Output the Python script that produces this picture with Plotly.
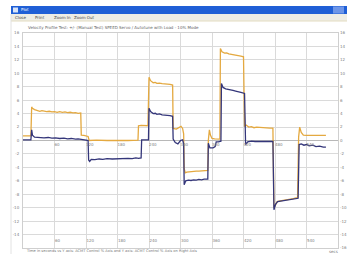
import plotly.graph_objects as go

# ---- data ----
orange_t = [0, 8, 15, 16.5, 18, 22, 27, 32, 36, 40, 45, 50, 55, 60, 65, 70, 75, 80, 85, 90, 95, 100, 105, 110,
            111, 116, 120, 124, 126, 140, 160, 180, 200, 219,
            220, 225, 230, 238,
            240, 243, 248, 252, 255, 260, 265, 270, 275, 280, 285,
            286, 292, 297, 301, 304, 306,
            307, 309, 312, 316, 320, 325, 330, 335, 340, 346, 352,
            353, 355, 357, 360, 365, 370, 375,
            376, 379, 384, 388, 392, 396, 400, 405, 410, 415, 420,
            422, 425, 430, 435, 440, 445, 450, 455, 460, 465, 470, 476,
            478, 481, 484, 490, 495, 500, 505, 510, 515, 520, 523,
            525, 527, 530, 534, 540, 545, 550, 560, 570, 577]
orange_v = [0.7, 0.75, 0.7, 5.0, 4.8, 4.6, 4.45, 4.35, 4.45, 4.4, 4.3, 4.35, 4.25, 4.3, 4.2, 4.3, 4.2, 4.25, 4.15, 4.2, 4.1, 4.15, 4.05, 4.1,
            0.8, 0.75, 0.7, 0.6, 0.0, 0.05, 0.0, -0.05, 0.0, 0.05,
            2.2, 2.25, 2.2, 2.2,
            9.4, 8.9, 8.6, 8.65, 8.5, 8.55, 8.45, 8.45, 8.35, 8.35, 8.25,
            1.8, 1.7, 2.0, 2.1, 1.8, 1.0,
            -4.2, -4.8, -4.7, -4.65, -4.6, -4.6, -4.55, -4.55, -4.5, -4.5, -4.45,
            0.0, 1.6, 0.8, 0.3, 0.25, 0.2, 0.2,
            13.7, 13.2, 13.0, 13.05, 12.9, 12.85, 12.75, 12.75, 12.6, 12.55, 12.45,
            2.1, 2.3, 2.0, 2.05, 1.9, 2.0, 1.95, 1.9, 1.95, 1.9, 1.85, 1.85,
            -10.0, -9.6, -9.1, -9.0, -8.95, -8.85, -8.8, -8.7, -8.65, -8.55, -8.5,
            0.5, 2.0, 1.2, 0.8, 0.75, 0.75, 0.75, 0.75, 0.75, 0.75]

navy_t = [0, 8, 15, 16.5, 18, 22, 30, 40, 48, 55, 62, 70, 78, 85, 92, 100, 105, 110,
          112, 120, 124,
          125, 127, 130, 137, 145, 152, 160, 170, 180, 190, 200, 208, 215, 220, 225,
          226, 232, 239,
          240, 243, 248, 252, 255, 260, 265, 270, 275, 280, 285,
          286, 290, 295, 300, 304, 306,
          307, 310, 315, 320, 325, 330, 335, 340, 345, 352,
          353, 356, 362, 366, 368, 372, 377,
          378, 381, 386, 390, 395, 400, 405, 410, 415, 422,
          424, 428, 435, 442, 450, 458, 465, 470, 476,
          478, 481, 485, 490, 495, 500, 505, 510, 515, 520, 524,
          526, 530, 535, 540, 545, 552, 558, 565, 572, 577]
navy_v = [0.1, 0.15, 0.1, 1.6, 0.8, 0.5, 0.45, 0.4, 0.45, 0.35, 0.4, 0.3, 0.35, 0.25, 0.3, 0.2, 0.25, 0.15,
          0.1, 0.05, 0.0,
          -2.9, -3.1, -2.8, -2.85, -2.75, -2.8, -2.7, -2.75, -2.7, -2.7, -2.65, -2.7, -2.6, -2.65, -2.6,
          0.1, 0.15, 0.1,
          4.8, 4.3, 4.0, 4.05, 3.9, 3.95, 3.8, 3.8, 3.7, 3.7, 3.6,
          0.2, -0.3, -0.5, 0.0, 0.1, -0.5,
          -6.6, -6.0, -5.9, -5.95, -5.85, -5.9, -5.8, -5.85, -5.75, -5.75,
          -0.4, -1.1, -1.1, -0.9, -0.2, -0.2, -0.1,
          8.5, 7.9, 7.7, 7.65, 7.5, 7.45, 7.35, 7.3, 7.15, 7.0,
          -0.6, -0.2, -0.1, -0.15, -0.1, -0.15, -0.15, -0.1, -0.15,
          -10.3, -9.5, -9.1, -9.05, -9.0, -8.95, -8.85, -8.8, -8.7, -8.65, -8.6,
          -0.6, -0.5, -0.7, -0.6, -0.8, -0.7, -0.9, -0.85, -1.0, -1.0]

x_ticks = [0, 60, 120, 180, 240, 300, 360, 420, 480, 540, 600]
x_labels = ["", "60", "120", "180", "240", "300", "360", "420", "480", "540", ""]
y_ticks = list(range(-16, 17, 2))
y_labels = [str(v) for v in y_ticks]

title_text = "Velocity Profile Test: +/- (Manual Test) SPEED Servo / Autotune with Load - 10% Mode"
caption_text = "Time in seconds vs Y axis: ACMT Control % Axis and Y axis: ACMT Control % Axis on Right Axis"
menu_items = ["Close", "Print", "Zoom In", "Zoom Out"]

ORANGE = "#E4A940"
NAVY = "#34367A"
GRID = "#DADADA"
TICKFONT = dict(family="DejaVu Sans", size=4, color="#808080")

fig = go.Figure()
fig.add_trace(go.Scatter(x=orange_t, y=orange_v, mode="lines",
                         line=dict(color=ORANGE, width=1.3), showlegend=False))
fig.add_trace(go.Scatter(x=navy_t, y=navy_v, mode="lines",
                         line=dict(color=NAVY, width=1.3), showlegend=False))
# invisible trace to activate the mirrored axes
fig.add_trace(go.Scatter(x=[0], y=[0], xaxis="x2", yaxis="y2", mode="lines",
                         line=dict(width=0), showlegend=False, hoverinfo="skip"))

# plot area: x 23..338, y 33..248
PW = 315.0
PH = 215.0
def px(xpix):
    return (xpix - 23) / PW
def py(ypix):
    return (248 - ypix) / PH

fig.update_layout(
    width=347, height=254,
    margin=dict(l=23, r=9, t=33, b=6),
    paper_bgcolor="white", plot_bgcolor="white",
    xaxis=dict(range=[0, 600], tickvals=x_ticks, ticktext=x_labels,
               ticklabelposition="inside right", tickfont=TICKFONT,
               showgrid=True, gridcolor=GRID, gridwidth=1, zeroline=False,
               showline=True, linecolor="#CFCFCF", mirror=True, ticks="", automargin=False),
    xaxis2=dict(range=[0, 600], tickvals=x_ticks, ticktext=x_labels,
                overlaying="x", anchor="free", position=0.5, side="bottom",
                ticklabelposition="outside right", tickfont=TICKFONT,
                showgrid=False, zeroline=False, showline=False, ticks="", automargin=False),
    yaxis=dict(range=[-16, 16], tickvals=y_ticks, ticktext=y_labels,
               tickfont=TICKFONT, showgrid=True, gridcolor=GRID, gridwidth=1,
               zeroline=True, zerolinecolor="#B8B8B8", zerolinewidth=1,
               showline=True, linecolor="#CFCFCF", mirror=True, ticks="",
               ticklabelstandoff=2, automargin=False),
    yaxis2=dict(range=[-16, 16], tickvals=y_ticks, ticktext=y_labels,
                overlaying="y", side="right", anchor="x", tickfont=TICKFONT,
                showgrid=False, zeroline=False, ticks="", ticklabelstandoff=1, automargin=False),
    shapes=[
        # window title bar
        dict(type="rect", xref="paper", yref="paper", x0=px(11), x1=px(348), y0=py(14), y1=py(6),
             fillcolor="#1F5FD6", line=dict(width=0), layer="above"),
        dict(type="rect", xref="paper", yref="paper", x0=px(333), x1=px(344), y0=py(13.5), y1=py(6.5),
             fillcolor="#6E96E8", line=dict(width=0), layer="above"),
        dict(type="rect", xref="paper", yref="paper", x0=px(13), x1=px(18), y0=py(12.5), y1=py(7.5),
             fillcolor="#D8E4F8", line=dict(width=0), layer="above"),
        # menu bar
        dict(type="rect", xref="paper", yref="paper", x0=px(11), x1=px(348), y0=py(21), y1=py(14),
             fillcolor="#EEEDE6", line=dict(width=0), layer="above"),
        dict(type="line", xref="paper", yref="paper", x0=px(11), x1=px(348), y0=py(21), y1=py(21),
             line=dict(color="#E4DCC0", width=1), layer="above"),
        # window left border
        dict(type="line", xref="paper", yref="paper", x0=px(11), x1=px(11), y0=py(254), y1=py(14),
             line=dict(color="#E2E2E2", width=1), layer="above"),
    ],
    annotations=[
        dict(text="Plot", xref="paper", yref="paper", x=px(19), y=py(10), xanchor="left",
             yanchor="middle", showarrow=False, font=dict(family="DejaVu Sans", size=4, color="white")),
        dict(text=title_text, xref="paper", yref="paper", x=px(26), y=py(27.5), xanchor="left",
             yanchor="middle", showarrow=False, font=dict(family="DejaVu Sans", size=4, color="#666666")),
        dict(text=caption_text, xref="paper", yref="paper", x=px(24), y=py(251), xanchor="left",
             yanchor="middle", showarrow=False, font=dict(family="DejaVu Sans", size=3.6, color="#777777")),
        dict(text="secs", xref="paper", yref="paper", x=px(340), y=py(251), xanchor="right",
             yanchor="middle", showarrow=False, font=dict(family="DejaVu Sans", size=4, color="#777777")),
    ] + [
        dict(text=m, xref="paper", yref="paper", x=px(13 + i * 19.5), y=py(17.5), xanchor="left",
             yanchor="middle", showarrow=False, font=dict(family="DejaVu Sans", size=4, color="#444444"))
        for i, m in enumerate(menu_items)
    ],
)

fig.write_html("out.html", config={"displayModeBar": False},
               post_script="document.body.style.margin='0';")
